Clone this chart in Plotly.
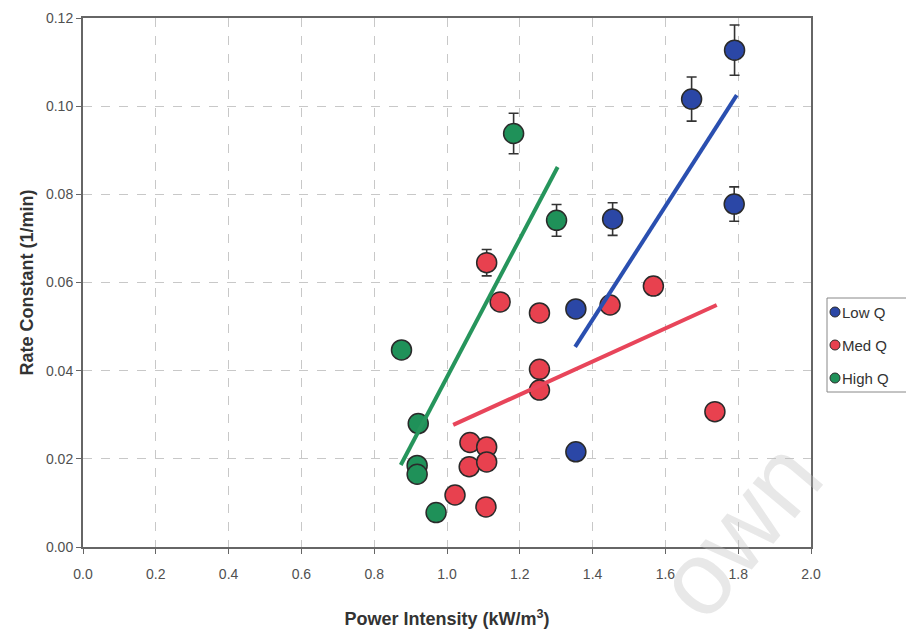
import plotly.graph_objects as go

# Rate constants vs. power intensity, three flow-rate groups
low_x = [1.790, 1.672, 1.789, 1.455, 1.354, 1.354]
low_y = [0.1127, 0.1016, 0.0778, 0.0744, 0.0540, 0.0216]
low_err = [0.0057, 0.0050, 0.0039, 0.0037, 0.0, 0.0]

med_x = [1.109, 1.146, 1.254, 1.448, 1.567, 1.254, 1.254, 1.063, 1.109, 1.061, 1.109, 1.022, 1.107, 1.736]
med_y = [0.0645, 0.0556, 0.0531, 0.0549, 0.0592, 0.0403, 0.0356, 0.0237, 0.0227, 0.0182, 0.0193, 0.0118, 0.0091, 0.0307]
med_err = [0.0030, 0.0, 0.0, 0.0, 0.0020, 0.0, 0.0, 0.0, 0.0, 0.0, 0.0, 0.0, 0.0, 0.0]

high_x = [1.183, 1.301, 0.875, 0.921, 0.918, 0.918, 0.970]
high_y = [0.0938, 0.0741, 0.0447, 0.0280, 0.0185, 0.0165, 0.0078]
high_err = [0.0046, 0.0036, 0.0, 0.0, 0.0, 0.0, 0.0]

# Linear trend lines (end points)
low_fit_x = [1.352, 1.796]
low_fit_y = [0.0454, 0.1025]
med_fit_x = [1.017, 1.741]
med_fit_y = [0.0277, 0.0549]
high_fit_x = [0.873, 1.304]
high_fit_y = [0.0186, 0.0862]

series_names = ["Low Q", "Med Q", "High Q"]
x_ticks = [0.0, 0.2, 0.4, 0.6, 0.8, 1.0, 1.2, 1.4, 1.6, 1.8, 2.0]
y_ticks = [0.00, 0.02, 0.04, 0.06, 0.08, 0.10, 0.12]

BLUE = "#2b47a6"
RED = "#e8414f"
GREEN = "#1f9159"
EDGE = "#2a2a2a"
FONT = "Liberation Sans Narrow, Liberation Sans, Arial, sans-serif"

fig = go.Figure()

groups = [
    (low_x, low_y, low_err, BLUE),
    (med_x, med_y, med_err, RED),
    (high_x, high_y, high_err, GREEN),
]
for name, (gx, gy, ge, col) in zip(series_names, groups):
    fig.add_trace(go.Scatter(
        x=gx, y=gy, mode="markers", name=name, showlegend=False,
        marker=dict(size=20, color=col, line=dict(color=EDGE, width=1.5)),
        error_y=dict(type="data", array=ge, visible=True, color="#333333",
                     thickness=1.6, width=5),
    ))

fits = [
    (high_fit_x, high_fit_y, "#26955c"),
    (med_fit_x, med_fit_y, "#e8455a"),
    (low_fit_x, low_fit_y, "#2a4fb0"),
]
for fx, fy, col in fits:
    fig.add_trace(go.Scatter(
        x=fx, y=fy, mode="lines", showlegend=False,
        line=dict(color=col, width=4),
    ))

axis_common = dict(
    showline=True, linecolor="#666666", linewidth=2, mirror=True,
    showgrid=True, gridcolor="#c8c8c8", gridwidth=1, griddash="dash",
    ticks="outside", ticklen=5, tickcolor="#666666", tickwidth=1,
    zeroline=False,
    tickfont=dict(family=FONT, size=14, color="#505050"),
)

fig.update_xaxes(
    range=[0, 2.0], tickvals=x_ticks, tickformat=".1f", ticklabelstandoff=8,
    title=dict(text="Power Intensity (kW/m<sup>3</sup>)", standoff=32,
               font=dict(family=FONT, size=18, color="#333333", weight="bold")),
    **axis_common,
)
fig.update_yaxes(
    range=[0, 0.12], tickvals=y_ticks, tickformat=".2f",
    title=dict(text="Rate Constant (1/min)", standoff=8,
               font=dict(family="Liberation Sans, Arial, sans-serif", size=18,
                         color="#333333", weight="bold")),
    **axis_common,
)

# Faint diagonal watermark
fig.add_annotation(
    text="own", xref="paper", yref="paper", x=1.05, y=-0.18,
    showarrow=False, textangle=-50,
    font=dict(family="Liberation Sans, Arial, sans-serif", size=104,
              color="rgba(190,190,190,0.35)"),
)

# Key box to the right of the plot area (partly beyond the page edge)
PW, PH = 728.0, 529.0  # plot area size in px


def px_x(p):
    return (p - 83) / PW


def px_y(p):
    return (547 - p) / PH


fig.add_shape(type="rect", xref="paper", yref="paper",
              x0=px_x(827), x1=px_x(940), y0=px_y(392), y1=px_y(298),
              line=dict(color="#888888", width=1), fillcolor="white")
key_rows = [312, 345, 378]
for name, col, row in zip(series_names, [BLUE, RED, GREEN], key_rows):
    fig.add_shape(type="circle", xref="paper", yref="paper",
                  x0=px_x(830), x1=px_x(840), y0=px_y(row + 5), y1=px_y(row - 5),
                  line=dict(color=EDGE, width=1), fillcolor=col)
    fig.add_annotation(text=name, xref="paper", yref="paper",
                       x=px_x(840), y=px_y(row), xanchor="left", yanchor="middle",
                       showarrow=False,
                       font=dict(family=FONT, size=15, color="#333333"))

fig.update_layout(
    width=906, height=640,
    margin=dict(l=83, r=95, t=18, b=93, autoexpand=False),
    paper_bgcolor="white", plot_bgcolor="white",
    font=dict(family=FONT, color="#333333"),
    showlegend=False,
)

fig.write_html("out.html")
